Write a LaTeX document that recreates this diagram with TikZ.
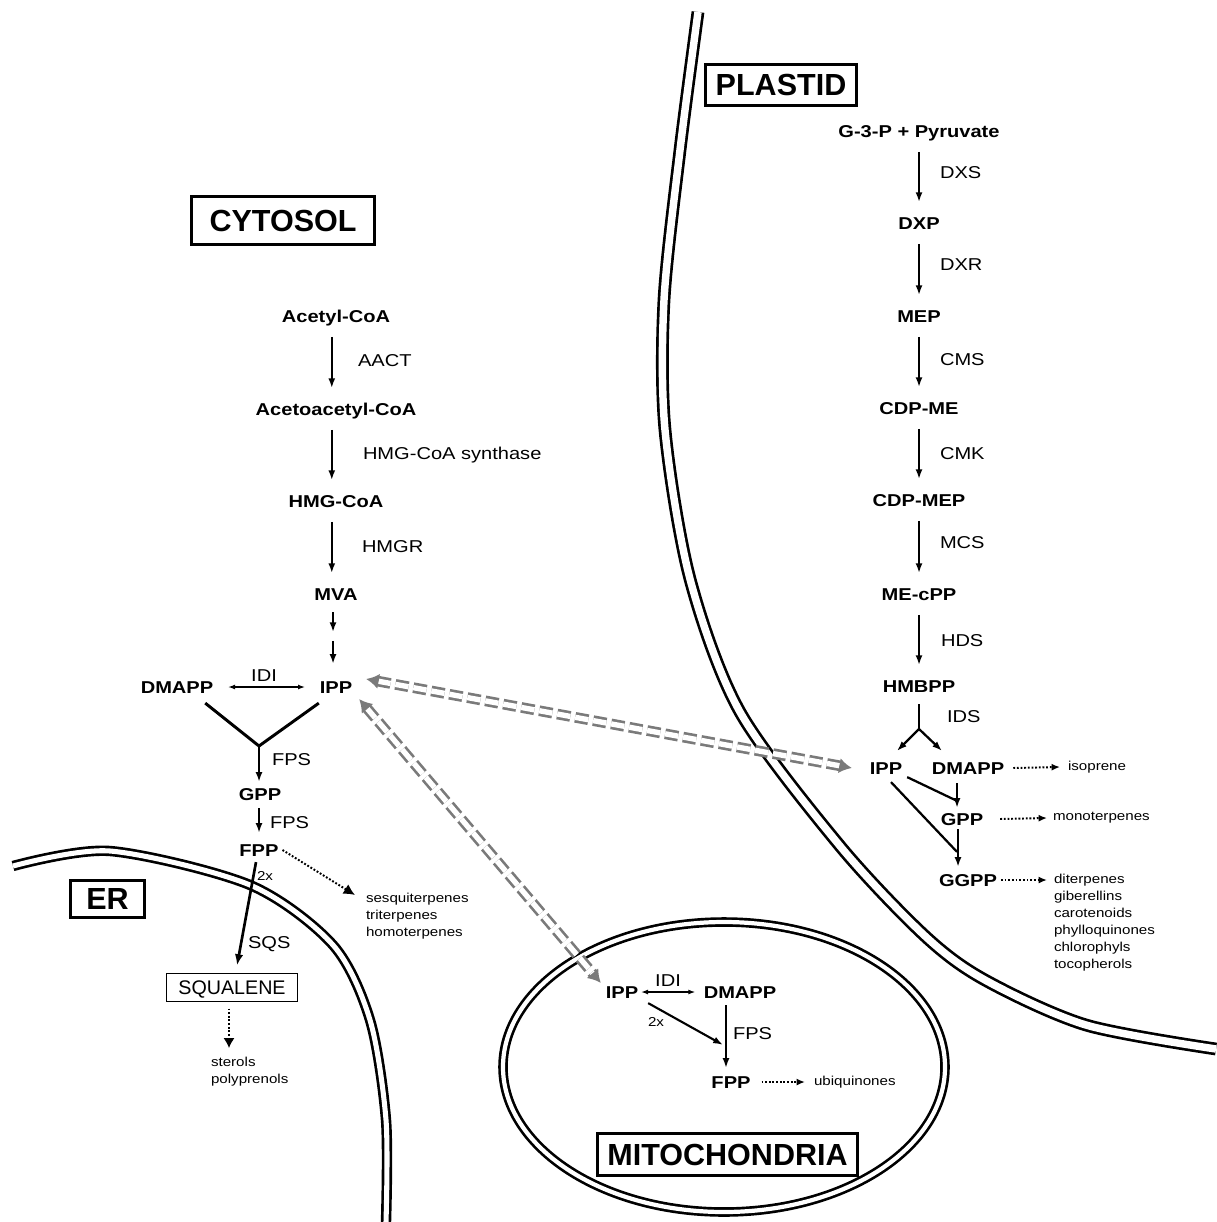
\documentclass[tikz,border=0pt]{standalone}
\usepackage{fontspec}
\setmainfont{Liberation Sans}
\newfontfamily\widesans[FakeStretch=1.17]{Liberation Sans}
\usetikzlibrary{arrows.meta,calc}
\definecolor{transgray}{RGB}{122,122,122}

\begin{document}
\begin{tikzpicture}[x=0.025cm,y=-0.025cm]
  \tikzstyle{every node}=[inner sep=0pt, outer sep=0pt]
  \tikzstyle{metab}=[font=\fontsize{12.2}{14}\selectfont\widesans\bfseries, text height=8.7pt, text depth=0pt]
  \tikzstyle{enzyme}=[font=\fontsize{12.2}{14}\selectfont\widesans, text height=8.7pt, text depth=0pt]
  \tikzstyle{small}=[font=\fontsize{9.2}{12.1}\selectfont\widesans, align=left]
  \tikzstyle{compart}=[draw, line width=2.1pt, font=\fontsize{21.7}{26}\selectfont\bfseries, text height=15.5pt, text depth=0pt]
  \tikzstyle{membrane}=[draw, double, line width=1.9pt]
  \tikzstyle{react}=[draw, line width=1.4pt, -{Latex[length=7pt,width=5pt]}]
  \tikzstyle{chain}=[react, shorten <=10.5pt, shorten >=10.5pt]
  \tikzstyle{isom}=[draw, line width=0.9pt, {Latex[length=5pt,width=3.5pt]}-{Latex[length=5pt,width=3.5pt]}]
  \tikzstyle{toprod}=[draw, line width=1.4pt, dash pattern=on 1.3pt off 1.3pt, -{Latex[length=6pt,width=5pt]}]
  \tikzstyle{transport}=[draw=transgray, double=white, double distance=3.8pt, line width=1.9pt, dash pattern=on 9.5pt off 3.5pt, {Latex[length=9pt,width=11pt]}-{Latex[length=9pt,width=11pt]}]

  \useasboundingbox (0,0) rectangle (1216,1222);

  % membranes
  \draw[membrane, double distance=5.3pt] plot[smooth] coordinates {(698,12) (680,150) (664,300) (665,430) (690,579) (740,712) (840,846) (925,936) (985,980) (1086,1025) (1216,1049)};
  \draw[membrane, double distance=3.6pt] plot[smooth] coordinates {(13,866) (110,851) (250,885) (333,945) (370,1020) (386,1120) (386,1222)};
  \draw[membrane, double distance=3pt] (724,1067) ellipse [x radius=221, y radius=145];

  % compartments
  \node[compart, minimum width=4.575cm, minimum height=1.2cm] (cytosol) at (283,220.5) {CYTOSOL};
  \node[compart, minimum width=3.775cm, minimum height=1.025cm] (plastid) at (781,85) {PLASTID};
  \node[compart, minimum width=6.5cm, minimum height=1.05cm] (mito) at (727.5,1154.5) {MITOCHONDRIA};
  \node[compart, minimum width=1.85cm, minimum height=0.925cm] (er) at (107.5,899) {ER};

  % cytosol
  \node[metab] (acCoA) at (336,316) {Acetyl-CoA};
  \node[metab] (aacCoA) at (336,409) {Acetoacetyl-CoA};
  \node[metab] (hmgCoA) at (336,501) {HMG-CoA};
  \node[metab] (mva) at (336,594) {MVA};
  \node[metab] (ippC) at (336,687) {IPP};
  \node[metab] (dmappC) at (177,687) {DMAPP};
  \node[metab] (gppC) at (260,794) {GPP};
  \node[metab] (fppC) at (259,850) {FPP};
  \node[draw, line width=0.8pt, font=\fontsize{14}{16}\selectfont, text height=10pt, text depth=0pt, minimum width=3.275cm, minimum height=0.7cm] (squal) at (232,987.5) {SQUALENE};

  \node[enzyme, anchor=west] (aact) at (358,360) {AACT};
  \node[enzyme, anchor=west] (hmgs) at (363,453) {HMG-CoA synthase};
  \node[enzyme, anchor=west] (hmgr) at (362,546) {HMGR};
  \node[enzyme] (idiC) at (264,675) {IDI};
  \node[enzyme, anchor=west] (fpsA) at (272,759) {FPS};
  \node[enzyme, anchor=west] (fpsB) at (270,822) {FPS};
  \node[enzyme, anchor=west] (sqs) at (248,942) {SQS};
  \node[small, anchor=west] (twoxC) at (257,876) {2x};

  \node[small, anchor=north west] (sesq) at (366,893) {sesquiterpenes\\triterpenes\\homoterpenes};
  \node[small, anchor=north west] (sterols) at (211,1057) {sterols\\polyprenols};

  % plastid
  \node[metab] (g3p) at (919,131) {G-3-P + Pyruvate};
  \node[metab] (dxp) at (919,223) {DXP};
  \node[metab] (mep) at (919,316) {MEP};
  \node[metab] (cdpme) at (919,408) {CDP-ME};
  \node[metab] (cdpmep) at (919,500) {CDP-MEP};
  \node[metab] (mecpp) at (919,594) {ME-cPP};
  \node[metab] (hmbpp) at (919,686) {HMBPP};
  \node[metab] (ippP) at (886,768) {IPP};
  \node[metab] (dmappP) at (968,768) {DMAPP};
  \node[metab] (gppP) at (962,819) {GPP};
  \node[metab] (ggppP) at (968,880) {GGPP};

  \node[enzyme, anchor=west] (dxs) at (940,172) {DXS};
  \node[enzyme, anchor=west] (dxr) at (940,264) {DXR};
  \node[enzyme, anchor=west] (cms) at (940,359) {CMS};
  \node[enzyme, anchor=west] (cmk) at (940,453) {CMK};
  \node[enzyme, anchor=west] (mcs) at (940,542) {MCS};
  \node[enzyme, anchor=west] (hds) at (941,640) {HDS};
  \node[enzyme, anchor=west] (ids) at (947,716) {IDS};

  \node[small, anchor=west] (isoprene) at (1068,767) {isoprene};
  \node[small, anchor=west] (mono) at (1053,818) {monoterpenes};
  \node[small, anchor=north west] (diter) at (1054,874) {diterpenes\\giberellins\\carotenoids\\phylloquinones\\chlorophyls\\tocopherols};

  % mitochondria
  \node[metab] (ippM) at (622,992) {IPP};
  \node[metab] (dmappM) at (740,992) {DMAPP};
  \node[metab] (fppM) at (731,1082) {FPP};
  \node[enzyme] (idiM) at (668,980) {IDI};
  \node[enzyme, anchor=west] (fpsM) at (733,1033) {FPS};
  \node[small] (twoxM) at (656,1022) {2x};
  \node[small, anchor=west] (ubiq) at (814,1082) {ubiquinones};

  % MVA pathway
  \foreach \a/\b in {acCoA/aacCoA, aacCoA/hmgCoA, hmgCoA/mva}{
  \draw[chain] ([xshift=-3pt]\a.south) -- ([xshift=-3pt]\b.north);
  }
  \draw[react] ($(mva.south)+(-3,12)$) -- ++(0,20);
  \draw[react] ($(ippC.north)+(-3,-40)$) -- ++(0,23);
  \draw[isom, shorten <=10.5pt, shorten >=10.5pt] (dmappC) -- (ippC);

  \coordinate (fpsY) at (259,746);
  \draw[line width=2.1pt] ($(dmappC.south east)+(-8,10)$) -- (fpsY) -- ($(ippC.south west)+(-1,10)$);
  \draw[react, line width=2pt] (fpsY) -- ($(gppC.north)+(-1,-6)$);
  \draw[react] ($(gppC.south)+(-1,8)$) -- ($(fppC.north)+(0,-11)$);
  \draw[react, line width=1.9pt, -{Latex[length=8pt,width=6pt]}] ($(fppC.south)+(-3,6)$) -- ($(squal.north)+(5,-8)$);
  \draw[toprod, -{Latex[length=8pt,width=8pt]}] ($(fppC.east)+(4,0)$) -- ($(sesq.north west)+(-11,2)$);
  \draw[toprod, -{Latex[length=7pt,width=8pt]}] ($(squal.south)+(-3,7)$) -- ($(sterols.north west)+(18,-9)$);

  % MEP pathway
  \foreach \a/\b in {g3p/dxp, dxp/mep, mep/cdpme, cdpme/cdpmep, cdpmep/mecpp, mecpp/hmbpp}{
  \draw[chain] (\a) -- (\b);
  }
  \coordinate (idsY) at (919,729);
  \draw[line width=1.6pt] ($(hmbpp.south)+(0,12)$) -- (idsY);
  \draw[react, line width=1.6pt] (idsY) -- ($(ippP.north)+(11,-11)$);
  \draw[react, line width=1.6pt] (idsY) -- ($(dmappP.north)+(-26,-11)$);
  \draw[react] ($(dmappP.south)+(-11,9)$) -- ($(gppP.north)+(-5,-5)$);
  \draw[line width=1.6pt] ($(ippP.south east)+(5,3)$) -- ($(gppP.north)+(-5,-12)$);
  \draw[react] ($(gppP.south)+(-4,4)$) -- ($(ggppP.north)+(-10,-7)$);
  \draw[line width=1.6pt] ($(ippP.south)+(5,8)$) -- ($(ggppP.north)+(-11,-22)$);
  \draw[toprod] ($(dmappP.east)+(9,0)$) -- ($(isoprene.west)+(-8,0)$);
  \draw[toprod] ($(gppP.east)+(17,0)$) -- ($(mono.west)+(-6,0)$);
  \draw[toprod] ($(ggppP.east)+(4,0)$) -- ($(diter.north west)+(-7,6)$);

  % mitochondrial branch
  \draw[isom, shorten <=2pt, shorten >=6pt] (ippM) -- (dmappM);
  \draw[react, line width=1.5pt] ($(ippM.south east)+(10,5)$) -- ($(fppM.north)+(-8,-31)$);
  \draw[react, line width=1.3pt] ($(dmappM.south)+(-14,7)$) -- ($(fppM.north)+(-5,-8)$);
  \draw[toprod] ($(fppM.east)+(11,0)$) -- ($(ubiq.west)+(-9,0)$);

  % IPP exchange
  \draw[transport] ($(ippC.east)+(14,-8)$) -- ($(ippP.west)+(-18,0)$);
  \draw[transport] ($(ippC.south east)+(7,6)$) -- ($(ippM.north west)+(-5,-3)$);

\end{tikzpicture}
\end{document}
